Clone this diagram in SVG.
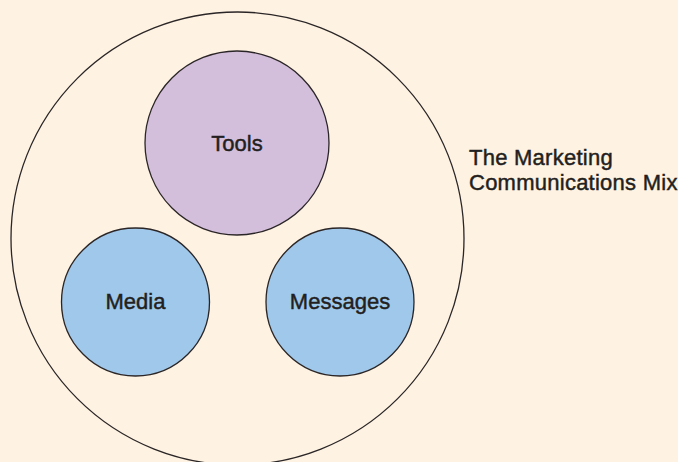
<svg xmlns="http://www.w3.org/2000/svg" width="678" height="462" viewBox="0 0 678 462">
<style>
.c{stroke:#2a2526;stroke-width:1.3}
.t{font-family:"Liberation Sans",Arial,sans-serif;font-size:22px;fill:#231f20;stroke:#231f20;stroke-width:0.45;text-anchor:middle}
.l{font-family:"Liberation Sans",Arial,sans-serif;font-size:22px;letter-spacing:0.25px;fill:#231f20;stroke:#231f20;stroke-width:0.45}
</style>
<rect width="678" height="462" fill="#fef2e2"/>
<g id="mix">
<circle class="c" cx="237.5" cy="238.5" r="226.5" fill="none"/>
<text class="l" x="469" y="165">The Marketing</text>
<text class="l" x="469" y="190">Communications Mix</text>
</g>
<g id="tools">
<circle class="c" cx="237" cy="143" r="92" fill="#d3bedb"/>
<text class="t" x="237" y="151">Tools</text>
</g>
<g id="media">
<circle class="c" cx="135.5" cy="302" r="74" fill="#a0c8ea"/>
<text class="t" x="135.5" y="309">Media</text>
</g>
<g id="messages">
<circle class="c" cx="340" cy="302" r="74" fill="#a0c8ea"/>
<text class="t" x="340" y="309">Messages</text>
</g>
<g id="connectors"/>
</svg>
